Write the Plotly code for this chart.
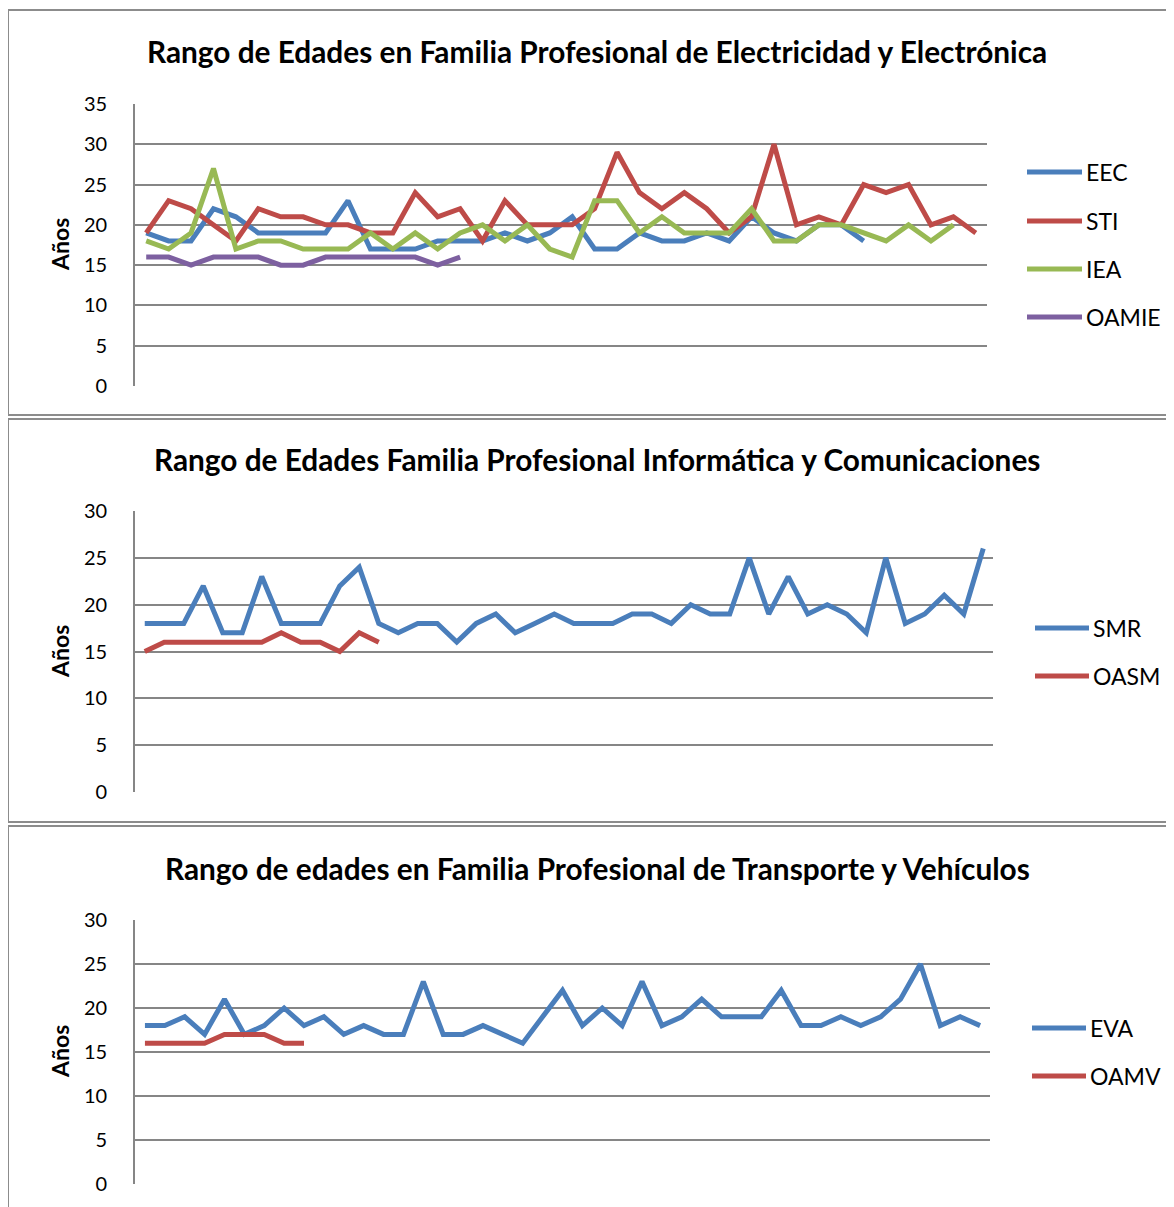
import plotly.graph_objects as go

# page body has an 8px margin, so the figure is laid out 8px in from the reference frame
OFF = 8
W, H = 1174 - OFF, 1207 - OFF

# ---------------- data ----------------
eec = [19,18,18,22,21,19,19,19,19,23,17,17,17,18,18,18,19,18,19,21,17,17,19,18,18,19,18,21,19,18,20,20,18]
sti = [19,23,22,20,18,22,21,21,20,20,19,19,24,21,22,18,23,20,20,20,22,29,24,22,24,22,19,21,30,20,21,20,25,24,25,20,21,19]
iea = [18,17,19,27,17,18,18,17,17,17,19,17,19,17,19,20,18,20,17,16,23,23,19,21,19,19,19,22,18,18,20,20,19,18,20,18,20]
oamie = [16,16,15,16,16,16,15,15,16,16,16,16,16,15,16]

smr = [18,18,18,22,17,17,23,18,18,18,22,24,18,17,18,18,16,18,19,17,18,19,18,18,18,19,19,18,20,19,19,25,19,23,19,20,19,17,25,18,19,21,19,26]
oasm = [15,16,16,16,16,16,16,17,16,16,15,17,16]

eva = [18,18,19,17,21,17,18,20,18,19,17,18,17,17,23,17,17,18,17,16,19,22,18,20,18,23,18,19,21,19,19,19,22,18,18,19,18,19,21,25,18,19,18]
oamv = [16,16,16,16,17,17,17,16,16]

titles = [
    "Rango de Edades en Familia Profesional de Electricidad y Electrónica",
    "Rango de Edades Familia Profesional Informática y Comunicaciones",
    "Rango de edades en Familia Profesional de Transporte y Vehículos",
]
y_title = "Años"

BLUE, RED, GREEN, PURPLE = "#4A7EBB", "#BE4B48", "#98B954", "#7D60A0"

panels = [
    dict(series=[("EEC", eec, BLUE), ("STI", sti, RED), ("IEA", iea, GREEN), ("OAMIE", oamie, PURPLE)],
         ncat=38, ymax=35, px_x=(135, 987), px_y=(104, 386), box=(8, 10, 1200, 415),
         title_y=51, leg_y=[172, 221, 269, 317], leg_x=(1027, 1082), ytitle_y=245),
    dict(series=[("SMR", smr, BLUE), ("OASM", oasm, RED)],
         ncat=44, ymax=30, px_x=(135, 993), px_y=(511, 792), box=(8, 419, 1200, 822),
         title_y=460, leg_y=[628, 676], leg_x=(1035, 1089), ytitle_y=652),
    dict(series=[("EVA", eva, BLUE), ("OAMV", oamv, RED)],
         ncat=43, ymax=30, px_x=(135, 990), px_y=(920, 1184), box=(8, 826, 1200, 1230),
         title_y=868, leg_y=[1028, 1076], leg_x=(1032, 1086), ytitle_y=1052),
]

FONT = "Lato"
GRID = "#868686"

fig = go.Figure()
shapes = []
annotations = []

def fx(p):
    return (p - OFF) / W

def fy(p):
    return 1 - (p - OFF) / H

for k, pnl in enumerate(panels):
    sfx = "" if k == 0 else str(k + 1)
    xa, ya = "x" + sfx, "y" + sfx
    for name, vals, col in pnl["series"]:
        fig.add_trace(go.Scatter(
            x=list(range(len(vals))), y=vals, mode="lines", name=name,
            line=dict(color=col, width=5), xaxis=xa, yaxis=ya, showlegend=False,
        ))
    x0, x1 = pnl["px_x"]
    y0, y1 = pnl["px_y"]
    fig.layout["xaxis" + sfx] = dict(
        domain=[fx(x0), fx(x1)], range=[-0.5, pnl["ncat"] - 0.5], anchor=ya,
        showgrid=False, zeroline=False, showticklabels=False, showline=False,
        fixedrange=True, automargin=False,
    )
    fig.layout["yaxis" + sfx] = dict(
        domain=[fy(y1), fy(y0)], range=[0, pnl["ymax"]], dtick=5, anchor=xa,
        showgrid=True, gridcolor=GRID, gridwidth=1.8, zeroline=False,
        showline=True, linecolor=GRID, linewidth=1.8,
        ticks="", tickfont=dict(family=FONT, size=20, color="#000"),
        ticklabelstandoff=22, automargin=False,
    )
    # panel border
    bx0, by0, bx1, by1 = pnl["box"]
    shapes.append(dict(type="rect", xref="paper", yref="paper",
                       x0=fx(bx0), x1=fx(bx1), y0=fy(by1), y1=fy(by0),
                       line=dict(color="#8c8c8c", width=2), fillcolor="rgba(0,0,0,0)"))
    # title
    annotations.append(dict(text="<b>%s</b>" % titles[k], xref="paper", yref="paper",
                            x=fx(597), y=fy(pnl["title_y"]), showarrow=False,
                            xanchor="center", yanchor="middle",
                            font=dict(family=FONT, size=29.8, color="#000")))
    # y-axis title
    annotations.append(dict(text="<b>%s</b>" % y_title, xref="paper", yref="paper",
                            x=fx(60), y=fy(pnl["ytitle_y"]), showarrow=False, textangle=-90,
                            xanchor="center", yanchor="middle",
                            font=dict(family=FONT, size=23, color="#000")))
    # legend (line samples + labels)
    lx0, lx1 = pnl["leg_x"]
    for (name, vals, col), ly in zip(pnl["series"], pnl["leg_y"]):
        shapes.append(dict(type="line", xref="paper", yref="paper",
                           x0=fx(lx0), x1=fx(lx1), y0=fy(ly), y1=fy(ly),
                           line=dict(color=col, width=5)))
        annotations.append(dict(text=name, xref="paper", yref="paper",
                                x=fx(lx1 + 2), y=fy(ly), showarrow=False,
                                xanchor="left", yanchor="middle",
                                font=dict(family=FONT, size=23, color="#000")))

fig.update_layout(
    width=W, height=H, margin=dict(l=0, r=0, t=0, b=0, autoexpand=False),
    paper_bgcolor="white", plot_bgcolor="white",
    shapes=shapes, annotations=annotations, showlegend=False,
)

fig.write_html("out.html")
